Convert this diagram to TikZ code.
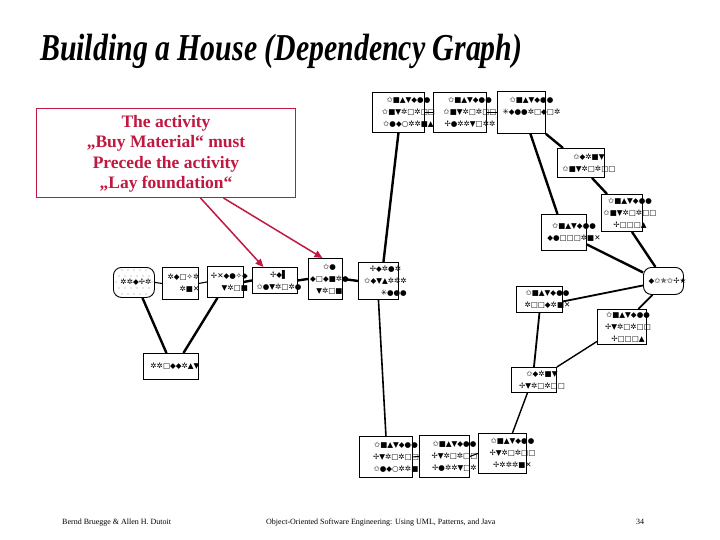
\documentclass[tikz,border=0pt]{standalone}
\usepackage{fontspec}
\setmainfont{Liberation Serif}
\newfontfamily\symf{DejaVu Sans}
\usetikzlibrary{arrows.meta}
\definecolor{callred}{RGB}{192,24,64}
\begin{document}
\begin{tikzpicture}[x=1pt,y=-1pt,
  box/.style={draw,line width=0.9pt,fill=white,inner sep=0,anchor=north west},
  lbl/.style={font=\symf\fontsize{7.5}{11.8}\selectfont,align=center,inner sep=0},
  thk/.style={line width=2.4pt},
  thn/.style={line width=1.1pt},
  redarrow/.style={draw=callred,line width=1.5pt,-{Triangle[length=8pt,width=7pt]}}]
\useasboundingbox (0,0) rectangle (720,540);

% title
\node[anchor=base west,inner sep=0,xscale=0.785,font=\bfseries\itshape\fontsize{38}{40}\selectfont] (title) at (40,61) {Building a House (Dependency Graph)};

% callout
\node[draw=callred,line width=1pt,fill=white,anchor=north west,minimum width=259pt,minimum height=89pt,inner sep=0] (call) at (36,108) {};
\node[text=callred,font=\bfseries\fontsize{17.5}{20.5}\selectfont,align=center,inner sep=0] (calltext) at ([yshift=-1pt]call.center) {The activity\\„Buy Material“ must\\Precede the activity\\„Lay foundation“};

% boxes
\node[box,minimum width=41pt,minimum height=30pt,rounded corners=8pt,fill=none] (ST) at (113,267) {};
\begin{scope}
  \clip[rounded corners=8pt] (113,267) rectangle (154,297);
  \foreach \i in {0,...,6}{\foreach \j in {0,...,4}{
    \fill[gray!85] ({116+\i*6+mod(\j,2)*3},{270+\j*6}) circle (0.65pt);}}
\end{scope}
\node[box,minimum width=36pt,minimum height=32pt] (SV) at (162,267) {};
\node[box,minimum width=36pt,minimum height=31pt] (EX) at (207,266) {};
\node[box,minimum width=45pt,minimum height=26pt] (BM) at (252,267) {};
\node[box,minimum width=34pt,minimum height=41pt] (LF) at (308,258) {};
\node[box,minimum width=40pt,minimum height=37pt] (G) at (358,262) {};
\node[box,minimum width=55pt,minimum height=26pt] (RP) at (143,353) {};
\node[box,minimum width=52pt,minimum height=40pt] (A) at (372,92) {};
\node[box,minimum width=53pt,minimum height=40pt] (B) at (433,92) {};
\node[box,minimum width=48pt,minimum height=42pt] (C) at (497,91) {};
\node[box,minimum width=47pt,minimum height=29pt] (D) at (557,148) {};
\node[box,minimum width=41pt,minimum height=37pt] (E) at (601,194) {};
\node[box,minimum width=45pt,minimum height=36pt] (F) at (541,214) {};
\node[box,minimum width=40pt,minimum height=27pt,rounded corners=8pt] (FIN) at (643,267) {};
\node[box,minimum width=46pt,minimum height=26pt] (H) at (516,286) {};
\node[box,minimum width=49pt,minimum height=35pt] (I) at (597,309) {};
\node[box,minimum width=45pt,minimum height=25pt] (J) at (511,367) {};
\node[box,minimum width=53pt,minimum height=41pt] (K) at (359,436) {};
\node[box,minimum width=50pt,minimum height=42pt] (L) at (419,435) {};
\node[box,minimum width=48pt,minimum height=40pt] (M) at (478,433) {};

% connectors
\draw[thn] (ST.east) -- (SV.west);
\draw[thn] (SV.east) -- (EX.west);
\draw[thk] (EX.east) -- (BM.west);
\draw[thk] (BM.east) -- (LF.west);
\draw[thk] (LF.east) -- (G.west);
\draw[thk] ([xshift=8.5pt]ST.south) -- ([xshift=-4.5pt]RP.north);
\draw[thk] ([xshift=-8pt]EX.south) -- ([xshift=12.5pt]RP.north);
\draw[thk] ([xshift=5pt]G.north) -- (A.south);
\draw[line width=1.6pt] (G.south) -- (K.north);
\draw[thn] (A.east) -- (B.west);
\draw[thn] (B.east) -- (C.west);
\draw[thn] (K.east) -- (L.west);
\draw[thn] (L.east) -- (M.west);
\draw[thk] ([xshift=9pt]C.south) -- ([xshift=-6.5pt]F.north);
\draw[thk] (C.south east) -- ([xshift=6pt]D.north west);
\draw[thk] ([xshift=11pt]D.south) -- ([xshift=6pt]E.north west);
\draw[thk] ([xshift=10pt]E.south) -- ([xshift=-8pt]FIN.north);
\draw[thk] ([yshift=-12pt]F.east) -- ([yshift=8.5pt]FIN.west);
\draw[line width=1.8pt] ([yshift=-2pt]H.east) -- ([yshift=-4.5pt]FIN.west);
\draw[line width=1.8pt] ([xshift=-11pt]FIN.south) -- ([xshift=16.5pt]I.north);
\draw[line width=1.8pt] (H.south) -- (J.north);
\draw[line width=1.4pt] ([yshift=-14.5pt]I.west) -- (J.north east);
\draw[line width=1.4pt] ([xshift=-6.5pt]J.south) -- ([xshift=10pt]M.north);

% red arrows
\draw[redarrow] ([xshift=34.5pt]call.south) -- ([xshift=-11.5pt]BM.north);
\draw[redarrow] ([xshift=57.5pt]call.south) -- ([xshift=-3pt]LF.north);

% labels (symbol rendering as printed)
\node[lbl] (tST) at ([xshift=2pt]ST.center) {✲✲◆✢✲};
\node[lbl] (tSV) at ([xshift=3pt]SV.center) {✲◆□✧✲\\\hfill✲■✕};
\node[lbl] (tEX) at ([xshift=4pt]EX.center) {✢✕◆●✧◆\\\hfill▼✲□■};
\node[lbl] (tBM) at ([xshift=4pt]BM.center) {✢◆▌\\✩●▼✲□✲●};
\node[lbl] (tLF) at ([xshift=4pt]LF.center) {✩●\\◆□◆■✲●\\▼✲□■};
\node[lbl] (tG) at ([xshift=7pt]G.center) {✢◆✲●✲\\✩◆▼▲✲✲✲\\\hfill✳●●●};
\node[lbl] (tRP) at ([xshift=4pt]RP.center) {✲✲□◆◆✲▲▼};
\node[lbl] (tA) at ([xshift=10pt]A.center) {✩■▲▼◆●●\\✩■▼✲□✲□□\\✩●◆○✲✲■▲};
\node[lbl] (tB) at ([xshift=10pt]B.center) {✩■▲▼◆●●\\✩■▼✲□✲□□\\✢●✲✲▼□✲✲};
\node[lbl,anchor=north] (tC) at ([xshift=10pt,yshift=-6pt]C.north) {✩■▲▼◆●●\\✳◆●●✲□◆□✲};
\node[lbl] (tD) at ([xshift=8pt]D.center) {✩◆✲■▼\\✩■▼✲□✲□□};
\node[lbl] (tE) at ([xshift=8pt]E.center) {✩■▲▼◆●●\\✩■▼✲□✲□□\\✢□□□▲};
\node[lbl] (tF) at ([xshift=10pt]F.center) {✩■▲▼◆●●\\◆●□□□✲■✕};
\node[lbl] (tFIN) at ([xshift=4pt]FIN.center) {◆✩✯✩✢★};
\node[lbl] (tH) at ([xshift=8pt]H.center) {✩■▲▼◆●●\\✲□□◆✲■✕};
\node[lbl] (tI) at ([xshift=6pt]I.center) {✩■▲▼◆●●\\✢▼✲□✲□□\\✢□□□▲};
\node[lbl] (tJ) at ([xshift=8pt]J.center) {✩◆✲■▼\\✢▼✲□✲□□};
\node[lbl] (tK) at ([xshift=10pt]K.center) {✩■▲▼◆●●\\✢▼✲□✲□□\\✩●◆○✲✲■};
\node[lbl] (tL) at ([xshift=10pt]L.center) {✩■▲▼◆●●\\✢▼✲□✲□□\\✢●✲✲▼□✲};
\node[lbl] (tM) at ([xshift=10pt]M.center) {✩■▲▼◆●●\\✢▼✲□✲□□\\✢✲✲✲■✕};

% footer
\node[anchor=base west,inner sep=0,font=\fontsize{8}{9}\selectfont] (f1) at (62,524) {Bernd Bruegge \& Allen H. Dutoit};
\node[anchor=base west,inner sep=0,font=\fontsize{8}{9}\selectfont] (f2) at (266,524) {Object-Oriented Software Engineering: Using UML, Patterns, and Java};
\node[anchor=base west,inner sep=0,font=\fontsize{8}{9}\selectfont] (f3) at (636,524) {34};
\end{tikzpicture}
\end{document}
